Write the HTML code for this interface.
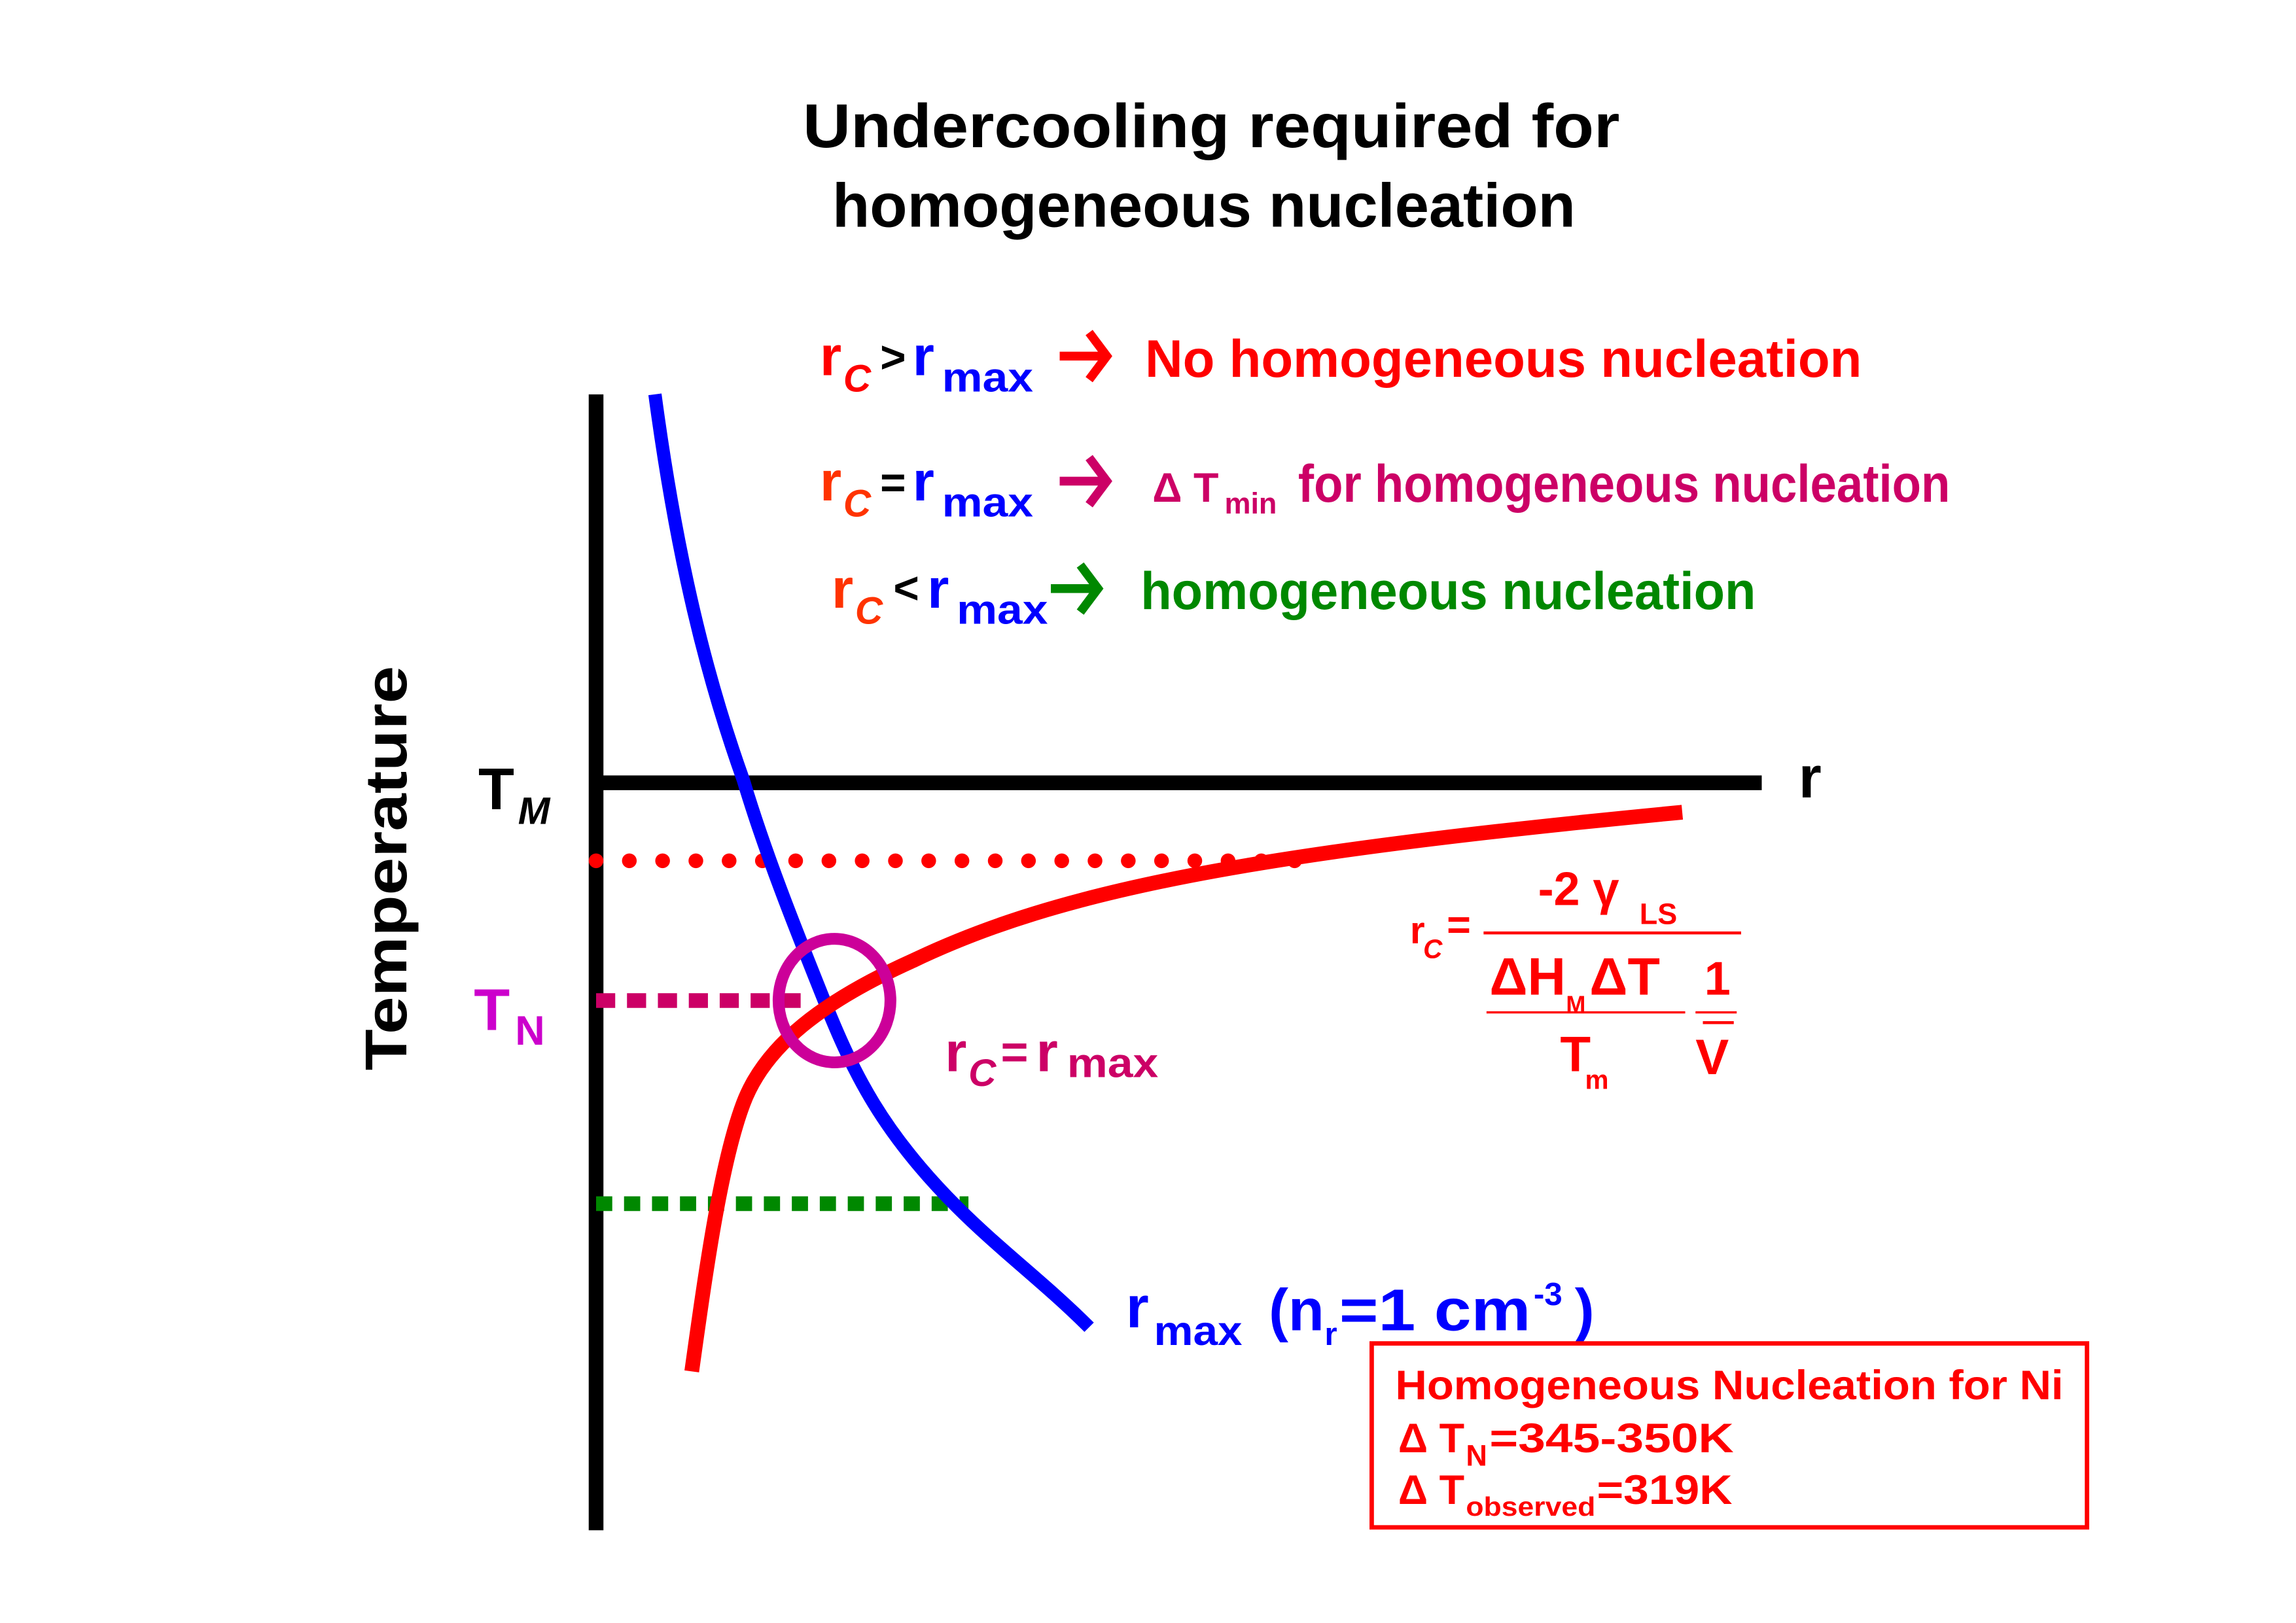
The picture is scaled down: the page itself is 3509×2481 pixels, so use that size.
<!DOCTYPE html>
<html><head><meta charset="utf-8"><style>html,body{margin:0;padding:0;background:#fff}svg{display:block}text{font-family:"Liberation Sans",sans-serif;font-weight:bold}</style></head>
<body>
<svg width="3509" height="2481" viewBox="0 0 1560 1103" preserveAspectRatio="none" xmlns="http://www.w3.org/2000/svg">
<rect width="1560" height="1103" fill="#fff"/>
<text x="823" y="100" font-size="42" text-anchor="middle" textLength="555" lengthAdjust="spacingAndGlyphs">Undercooling required for</text>
<text x="818" y="154" font-size="42" text-anchor="middle" textLength="505" lengthAdjust="spacingAndGlyphs">homogeneous nucleation</text>

<!-- row1 -->
<text x="557" y="255" font-size="38" fill="#f00">r</text><text x="573" y="266" font-size="26" fill="#f00" font-style="italic" font-weight="normal">C</text>
<text x="598" y="253" font-size="30" fill="#000">&gt;</text>
<text x="620" y="255" font-size="38" fill="#00f">r</text><text x="640" y="266" font-size="28" fill="#00f" textLength="62" lengthAdjust="spacingAndGlyphs">max</text>
<path d="M720,242 H750 M740,226 L752,242 L740,258" fill="none" stroke="#f00" stroke-width="6"/>
<text x="778" y="256" font-size="36" fill="#f00" textLength="487" lengthAdjust="spacingAndGlyphs">No homogeneous nucleation</text>
<!-- row2 -->
<text x="557" y="340" font-size="38" fill="#ff3300">r</text><text x="573" y="351" font-size="26" fill="#ff3300" font-style="italic" font-weight="normal">C</text>
<text x="598" y="338" font-size="30" fill="#000">=</text>
<text x="620" y="340" font-size="38" fill="#00f">r</text><text x="640" y="351" font-size="28" fill="#00f" textLength="62" lengthAdjust="spacingAndGlyphs">max</text>
<path d="M720,327 H750 M740,311 L752,327 L740,343" fill="none" stroke="#c06" stroke-width="6"/>
<text x="783" y="341" font-size="28" fill="#c06" font-weight="normal">Δ T</text><text x="832" y="349" font-size="20" fill="#c06" font-weight="normal">min</text>
<text x="882" y="341" font-size="36" fill="#c06" textLength="443" lengthAdjust="spacingAndGlyphs">for homogeneous nucleation</text>
<!-- row3 -->
<text x="565" y="413" font-size="38" fill="#ff3300">r</text><text x="581" y="424" font-size="26" fill="#ff3300" font-style="italic" font-weight="normal">C</text>
<text x="607" y="410" font-size="30" fill="#000">&lt;</text>
<text x="630" y="413" font-size="38" fill="#00f">r</text><text x="650" y="424" font-size="28" fill="#00f" textLength="62" lengthAdjust="spacingAndGlyphs">max</text>
<path d="M714,400 H744 M734,384 L746,400 L734,416" fill="none" stroke="#080" stroke-width="6"/>
<text x="775" y="414" font-size="36" fill="#080" textLength="418" lengthAdjust="spacingAndGlyphs">homogeneous nucleation</text>

<!-- axes -->
<line x1="405" y1="268" x2="405" y2="1040" stroke="#000" stroke-width="10"/>
<line x1="405" y1="532" x2="1197" y2="532" stroke="#000" stroke-width="10"/>
<text x="1222" y="542" font-size="40">r</text>
<text x="325" y="550" font-size="40">T</text><text x="352" y="560" font-size="26" font-style="italic" font-weight="normal">M</text>
<text transform="translate(276,590) rotate(-90)" font-size="40" text-anchor="middle" textLength="275" lengthAdjust="spacingAndGlyphs">Temperature</text>
<text x="322" y="700" font-size="40" fill="#c0c" font-weight="normal">T</text><text x="350" y="710" font-size="28" fill="#c0c" font-weight="normal">N</text>

<!-- dotted lines -->
<line x1="405" y1="585" x2="880" y2="585" stroke="#f00" stroke-width="10" stroke-linecap="round" stroke-dasharray="0 22.6"/>
<line x1="405" y1="680" x2="545" y2="680" stroke="#c06" stroke-width="10" stroke-dasharray="13 8"/>
<line x1="405" y1="818" x2="658" y2="818" stroke="#080" stroke-width="10" stroke-dasharray="11 8"/>

<!-- curves -->
<path d="M445,268 C460,380 480,460 505,530 C520,580 540,630 560,680 C580,730 600,770 650,820 C680,850 710,872 740,902" fill="none" stroke="#00f" stroke-width="9"/>
<path d="M470,932 C480,860 490,790 505,750 C520,710 560,680 620,653 C720,605 850,580 1143,552" fill="none" stroke="#f00" stroke-width="10"/>
<ellipse cx="567" cy="680" rx="38" ry="42" fill="none" stroke="#c09" stroke-width="8"/>

<text x="642" y="728" font-size="38" fill="#c06">r</text><text x="658" y="738" font-size="26" fill="#c06" font-style="italic" font-weight="normal">C</text>
<text x="680" y="726" font-size="32" fill="#c06">=</text>
<text x="704" y="728" font-size="38" fill="#c06">r</text><text x="725" y="732" font-size="28" fill="#c06" textLength="62" lengthAdjust="spacingAndGlyphs">max</text>

<!-- formula -->
<g fill="#f00" font-weight="normal">
<text x="958" y="641" font-size="26">r</text><text x="967" y="651" font-size="18" font-style="italic">C</text>
<text x="983" y="638" font-size="28">=</text>
<line x1="1008" y1="634" x2="1183" y2="634" stroke="#f00" stroke-width="2"/>
<text x="1045" y="615" font-size="32">-2 γ</text><text x="1114" y="628" font-size="20">LS</text>
<text x="1012" y="676" font-size="36">ΔH</text><text x="1064" y="688" font-size="16">M</text><text x="1080" y="676" font-size="36">ΔT</text>
<text x="1158" y="676" font-size="32">1</text>
<line x1="1010" y1="688" x2="1145" y2="688" stroke="#f00" stroke-width="1.5"/>
<line x1="1152" y1="688" x2="1180" y2="688" stroke="#f00" stroke-width="1.5"/>
<line x1="1157" y1="695" x2="1178" y2="695" stroke="#f00" stroke-width="2"/>
<text x="1060" y="728" font-size="34">T</text><text x="1077" y="740" font-size="18">m</text>
<text x="1152" y="730" font-size="34">V</text>
</g>

<text x="765" y="902" font-size="40" fill="#00f">r</text><text x="784" y="914" font-size="28" fill="#00f" textLength="60" lengthAdjust="spacingAndGlyphs">max</text>
<text x="862" y="904" font-size="40" fill="#00f">(n</text><text x="900" y="914" font-size="22" fill="#00f">r</text>
<text x="910" y="904" font-size="40" fill="#00f" textLength="130" lengthAdjust="spacingAndGlyphs">=1 cm</text><text x="1042" y="887" font-size="22" fill="#00f">-3</text><text x="1070" y="904" font-size="40" fill="#00f">)</text>

<rect x="932" y="913" width="486" height="125" fill="none" stroke="#f00" stroke-width="3"/>
<g fill="#f00">
<text x="948" y="951" font-size="28" textLength="454" lengthAdjust="spacingAndGlyphs">Homogeneous Nucleation for Ni</text>
<text x="950" y="987" font-size="28" font-weight="normal">Δ T</text><text x="996" y="996" font-size="20" font-weight="normal">N</text>
<text x="1012" y="987" font-size="28" textLength="166" lengthAdjust="spacingAndGlyphs">=345-350K</text>
<text x="950" y="1022" font-size="28" font-weight="normal">Δ T</text><text x="996" y="1030" font-size="18" textLength="88" lengthAdjust="spacingAndGlyphs">observed</text>
<text x="1085" y="1022" font-size="28" textLength="92" lengthAdjust="spacingAndGlyphs">=319K</text>
</g>
</svg>
</body></html>
